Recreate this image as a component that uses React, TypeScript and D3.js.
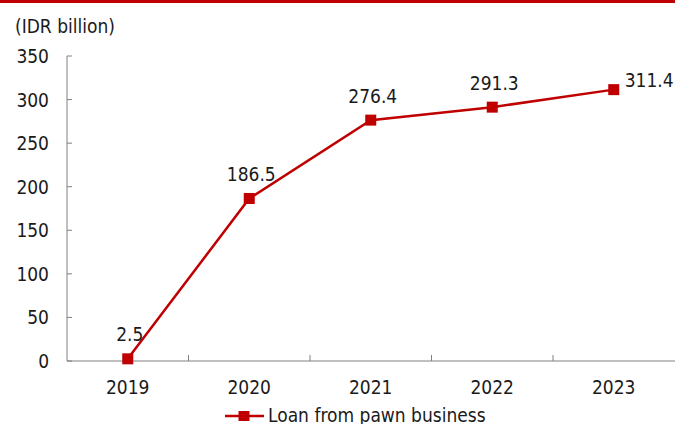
import React from "react";
import * as d3 from "d3";

const years = ["2019", "2020", "2021", "2022", "2023"];
const loans = [2.5, 186.5, 276.4, 291.3, 311.4];
const yTicks = [0, 50, 100, 150, 200, 250, 300, 350];
const seriesName = "Loan from pawn business";
const unitLabel = "(IDR billion)";

const W = 675;
const H = 424;
const RED = "#c00000";
const FONT = "'DejaVu Sans Condensed', 'DejaVu Sans', sans-serif";
const TEXT = "#1a1a1a";

export default function App() {
  const margin = { left: 67, right: 0.5, top: 56, bottom: 63 };
  const x = d3
    .scaleBand<string>()
    .domain(years)
    .range([margin.left, W - margin.right]);
  const y = d3
    .scaleLinear()
    .domain([0, 350])
    .range([H - margin.bottom, margin.top]);

  const cx = (d: string) => (x(d) ?? 0) + x.bandwidth() / 2;
  const line = d3
    .line<number>()
    .x((_, i) => cx(years[i]))
    .y((v) => y(v));

  const y0 = y(0);
  const fontSize = 19;
  const textProps = {
    fontFamily: FONT,
    fontSize,
    fill: TEXT,
    style: { fontStretch: "condensed" as const },
  };

  return (
    <div style={{ position: "fixed", left: 0, top: 0 }}>
      <svg width={W} height={H} style={{ display: "block" }}>
        <rect x={0} y={0} width={W} height={H} fill="#fff" />
        <rect x={0} y={0} width={W} height={3} fill={RED} />
        <text x={15} y={33} {...textProps}>
          {unitLabel}
        </text>

        {/* y axis */}
        <line x1={margin.left} x2={margin.left} y1={y(350)} y2={y0} stroke="#808080" strokeWidth={1} />
        {yTicks.map((t) => (
          <g key={t}>
            <line x1={margin.left} x2={margin.left + 5} y1={y(t)} y2={y(t)} stroke="#808080" />
            <text x={49} y={y(t)} dy="0.37em" textAnchor="end" {...textProps}>
              {t}
            </text>
          </g>
        ))}

        {/* x axis */}
        <line x1={margin.left} x2={W} y1={y0} y2={y0} stroke="#808080" />
        {years.slice(1).map((yr) => (
          <line key={yr} x1={x(yr)} x2={x(yr)} y1={y0} y2={y0 - 6} stroke="#808080" />
        ))}
        {years.map((yr) => (
          <text key={yr} x={cx(yr)} y={394} textAnchor="middle" {...textProps}>
            {yr}
          </text>
        ))}

        {/* series */}
        <path d={line(loans) ?? ""} fill="none" stroke={RED} strokeWidth={2.5} />
        {loans.map((v, i) => (
          <rect key={i} x={cx(years[i]) - 5.5} y={y(v) - 5.5} width={11} height={11} fill={RED} />
        ))}
        {loans.map((v, i) => {
          const last = i === loans.length - 1;
          return (
            <text
              key={i}
              x={last ? cx(years[i]) + 11 : cx(years[i]) + 2}
              y={last ? y(v) - 2.5 : y(v) - 17.5}
              textAnchor={last ? "start" : "middle"}
              {...textProps}
            >
              {v.toFixed(1)}
            </text>
          );
        })}

        {/* legend */}
        <line x1={225} x2={264} y1={416} y2={416} stroke={RED} strokeWidth={2.5} />
        <rect x={238.5} y={411} width={11} height={10} fill={RED} />
        <text x={268} y={421.5} {...textProps}>
          {seriesName}
        </text>
      </svg>
    </div>
  );
}
